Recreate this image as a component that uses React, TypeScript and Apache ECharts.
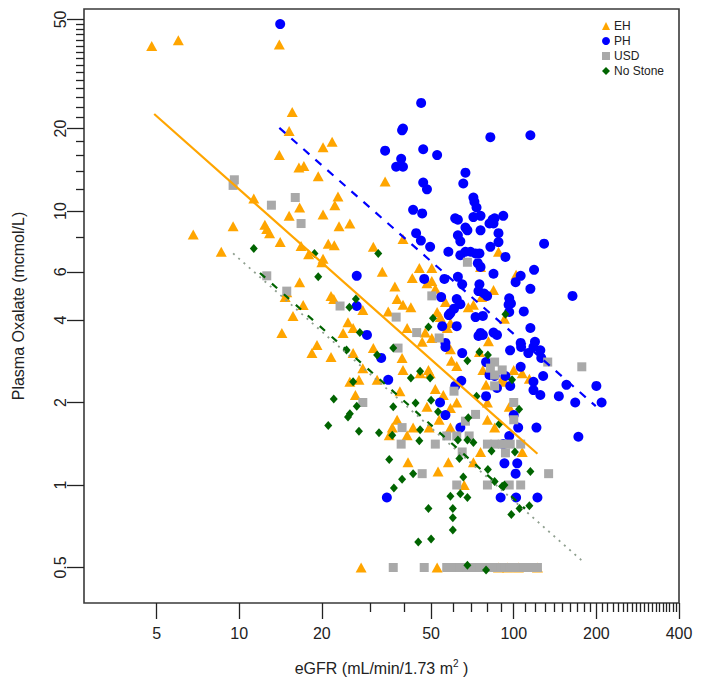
import React, { useEffect, useRef } from "react";
import * as echarts from "echarts";

// eGFR (mL/min/1.73 m2), Plasma Oxalate (mcmol/L)
const ehPoints: [number, number][] = [
  [4.8, 40], [6.0, 42], [14.0, 40.5], [15.6, 23], [15.2, 19.6], [14.0, 16], [20.2, 17.1], [21.8, 17.9],
  [16.5, 14.4], [17.2, 14.6], [19.4, 13.4], [11.3, 11.1], [22.9, 11.3], [16.6, 10.3], [22.3, 10.5],
  [15.2, 9.6], [20.2, 9.7], [9.5, 8.8], [12.4, 8.9], [12.6, 8.6], [12.9, 8.3], [23.1, 8.8], [6.8, 8.2],
  [14.1, 7.7], [16.8, 7.45], [21.1, 7.6], [22.2, 7.5], [8.6, 7.1], [17.9, 6.95], [20.2, 6.7], [20.0, 6.5],
  [16.6, 5.5], [21.6, 4.9], [22.1, 4.77], [14.7, 4.85], [14.9, 5.05], [17.1, 4.54], [15.7, 4.14],
  [14.3, 3.59], [23.9, 3.59], [24.9, 3.93], [25.3, 9.0], [34.0, 12.8], [30.8, 7.4], [39.5, 7.9],
  [88, 7.1], [45.3, 6.2], [50.3, 6.2], [33.2, 6.0], [42.7, 5.7], [48.3, 5.45], [50.3, 5.55], [75.7, 6.25],
  [102, 5.85], [84.4, 5.15], [36.9, 5.3], [51.8, 5.2], [37.6, 4.77], [56.4, 4.65], [39.5, 4.55], [42.2, 4.45],
  [68.3, 4.45], [71.3, 4.55], [76.4, 4.85], [34.9, 4.3], [28.2, 4.35], [52.6, 4.28], [54, 4.1], [92.5, 4.04],
  [57.3, 3.74], [58.8, 3.9], [40.9, 3.74], [47.6, 3.6], [50.3, 3.44], [46.4, 3.33], [80.9, 3.35], [26, 3.74],
  [19.2, 3.24], [18.4, 3.03], [21.6, 2.93], [30.8, 3.16], [39.2, 2.91], [58.8, 3.13], [75, 3.06], [26, 3.03],
  [59.3, 2.84], [28.2, 2.67], [39.5, 2.63], [48.9, 2.63], [49.6, 2.56], [62, 2.72], [77.2, 2.63], [100, 2.63],
  [107.4, 2.56], [31.8, 2.42], [27.3, 2.42], [25.3, 2.38], [45.6, 2.56], [114, 2.44], [90.8, 2.44],
  [92.5, 2.38], [79.3, 2.32], [26.5, 2.13], [38.5, 2.2], [51.8, 2.24], [55.4, 2.13], [62, 2.0], [80.2, 2.0],
  [48.3, 1.93], [58.8, 1.91], [96.3, 1.93], [37.6, 1.73], [43, 1.62], [36.1, 1.62], [35.2, 1.52], [40.9, 1.52],
  [49.2, 1.62], [58.8, 1.62], [80.2, 1.73], [53.5, 1.73], [85.2, 1.62], [75.7, 1.32], [41.2, 1.21],
  [57.8, 1.21], [53, 1.12], [71.3, 1.21], [107.4, 1.32], [66, 1.0],
  [27.8, 0.5], [52.6, 0.5], [88, 0.5], [95, 0.5], [104, 0.5], [122, 0.5],
];

const phPoints: [number, number][] = [
  [14.1, 48.1], [46, 24.8], [39.5, 20], [39.2, 19.7], [82.2, 18.6], [115, 18.9], [34, 16.6], [46.8, 16.8],
  [38.9, 15.5], [37.3, 14.5], [39.5, 14.5], [52.6, 16], [66.7, 13.8], [65.5, 12.6], [46.8, 12.7], [48.3, 12],
  [71.3, 11.2], [71.9, 10.8], [73.2, 10.3], [43, 10.1], [46.4, 9.8], [61.2, 9.4], [62.6, 9.3], [71.3, 9.5],
  [75.7, 9.6], [81.6, 9.0], [83.7, 9.3], [85.2, 9.4], [84.4, 9.0], [91.6, 9.6], [66.7, 8.7], [67.8, 8.5],
  [75.7, 8.5], [88, 8.3], [44.1, 8.3], [45.9, 7.8], [49.6, 7.4], [62.6, 8.15], [63.9, 7.75], [88, 7.7],
  [82.2, 7.4], [129, 7.6], [57.8, 7.1], [63.9, 6.9], [66.7, 7.1], [69.6, 7.1], [72.6, 7.0], [75, 7.0],
  [93.3, 6.8], [74, 6.45], [75.7, 6.25], [26.8, 5.8], [47.2, 5.65], [55.9, 5.65], [62.6, 5.75], [64.9, 5.4],
  [75, 5.4], [84.4, 5.9], [106, 5.8], [118.6, 6.1], [101.6, 5.5], [115, 5.2], [163.7, 4.9], [74.4, 5.1],
  [78, 5.0], [80, 4.9], [96.3, 4.8], [97.7, 4.6], [95.8, 4.55], [108.8, 4.3], [62, 4.77], [63.9, 4.57],
  [60.6, 4.4], [58.8, 4.24], [54.4, 4.85], [26.8, 4.5], [96.3, 4.28], [72.6, 4.1], [77.2, 4.14], [54.9, 3.8],
  [62, 3.8], [115, 3.74], [75.7, 3.59], [77.2, 3.53], [74.4, 3.5], [84.4, 3.6], [86.9, 3.53], [29.2, 3.53],
  [56.4, 3.3], [106, 3.3], [119.5, 3.33], [58, 4.17], [56.4, 3.19], [64.9, 3.03], [97, 3.1], [106.4, 3.19],
  [113, 3.03], [118, 3.19], [125, 3.1], [32.9, 2.91], [79.3, 2.81], [81.6, 2.52], [85.2, 2.5], [106, 2.7],
  [126, 2.91], [128, 2.5], [34.9, 2.42], [64.4, 2.4], [61.2, 2.3], [97.1, 2.3], [93.3, 2.5], [86.9, 2.26],
  [118, 2.38], [118, 2.22], [125, 2.13], [146, 2.11], [155.6, 2.32], [167.5, 2.0], [200, 2.3], [209, 2.0],
  [79.3, 2.11], [53.9, 2.0], [56.4, 1.8], [100, 1.8], [63.9, 1.62], [103.8, 1.62], [121, 1.62], [96.3, 1.51],
  [172, 1.5], [91.6, 1.41], [92.5, 1.2], [103, 1.2], [101.6, 1.1], [34.5, 0.9], [89.6, 0.9], [102, 0.9],
  [122, 0.9],
];

const usdPoints: [number, number][] = [
  [9.6, 13], [9.5, 12.4], [13.1, 10.5], [16, 11.2], [16.8, 9.0], [12.6, 5.8], [14.9, 5.1], [23.3, 4.5],
  [67.8, 6.5], [50.3, 4.9], [37.3, 4.1], [44.3, 3.6], [53.5, 3.44], [37.9, 3.16], [28.2, 2.0], [60.6, 2.2],
  [85.2, 2.81], [82.2, 2.67], [90.8, 2.63], [85.2, 2.52], [133, 2.81], [177, 2.7], [85.2, 2.3], [100, 2.0],
  [100, 1.73], [72.6, 1.81], [66.7, 1.71], [39.2, 1.62], [57, 1.51], [62, 1.51], [68.8, 1.51], [38.9, 1.41],
  [51.8, 1.41], [80.2, 1.41], [85.2, 1.41], [90.8, 1.41], [97.1, 1.41], [106, 1.41], [93.3, 1.31],
  [64.9, 1.32], [46.4, 1.1], [134, 1.1], [62, 1.0], [80.2, 1.0], [96.3, 1.0], [106, 1.0],
  [36.4, 0.5], [47.2, 0.5], [57, 0.5], [60.5, 0.5], [63.9, 0.5], [67.5, 0.5], [71.3, 0.5], [75.5, 0.5],
  [80.2, 0.5], [84.5, 0.5], [89.6, 0.5], [93, 0.5], [97, 0.5], [103, 0.5], [108.8, 0.5], [115, 0.5], [122, 0.5],
];

const noStonePoints: [number, number][] = [
  [11.3, 7.3], [18.8, 7.0], [19.4, 5.75], [25.2, 4.45], [32.1, 7.0], [26.6, 4.77], [93.3, 4.2], [50.8, 4.06],
  [48.9, 3.77], [27.5, 3.6], [36.4, 3.16], [31.8, 2.98], [26, 2.38], [45.6, 2.6], [42.2, 2.46], [49.6, 2.46],
  [67.8, 2.84], [75, 3.06], [80.5, 2.98], [98.6, 2.42], [36.4, 1.93], [26.8, 1.94], [25.3, 1.82], [43.9, 1.99],
  [50, 2.04], [53, 1.85], [68.3, 1.76], [73.2, 2.11], [104.6, 1.89], [27.3, 1.57], [32.3, 1.55], [36.1, 1.52],
  [45.6, 1.59], [45.3, 1.45], [62.6, 1.46], [67.8, 1.46], [71.3, 1.43], [88.6, 1.67], [83, 1.33], [101, 1.32],
  [63.4, 1.25], [35.2, 1.24], [43, 1.1], [39.2, 1.05], [36.6, 0.975], [65.5, 1.07], [115, 1.12], [80.5, 1.14],
  [85.2, 1.03], [90.8, 0.99], [92.5, 1.0], [58.8, 0.91], [63.9, 0.93], [67.8, 0.9], [105, 0.82], [114, 0.84],
  [98, 0.78], [48.9, 0.82], [60, 0.82], [60, 0.76], [60, 0.685], [44.9, 0.62], [50, 0.635], [67.8, 0.51],
  [79.3, 0.49], [22.1, 2.06], [21.1, 1.65], [24.9, 1.77], [24.6, 3.11],
];

// fitted lines (end points)
const ehFit: [number, number][] = [[4.9, 22.6], [122, 1.3]];
const phFit: [number, number][] = [[14, 20.1], [199, 1.94]];
const usdFit: [number, number][] = [[9.5, 7.0], [177, 0.53]];
const noStoneFit: [number, number][] = [[11.9, 5.94], [110, 0.82]];

const xLabelTicks = [5, 10, 20, 50, 100, 200, 400];
const xMinorTicks = [30, 40, 60, 70, 80, 90, 110, 120, 130, 140, 150, 160, 170, 180, 190,
  210, 220, 230, 240, 250, 260, 270, 280, 290, 300, 310, 320, 330, 340, 350, 360, 370, 380, 390];
const yLabelTicks = [0.5, 1, 2, 4, 6, 10, 20, 50];
const yMinorTicks = [8, 12, 14, 16, 18, 22, 24, 26, 28, 30, 32, 34, 36, 38, 40, 42, 44, 46, 48];

const seriesNames = ["EH", "PH", "USD", "No Stone"];
const FONT = "'Liberation Sans', Arial, sans-serif";
const TXT = "#222";

export default function App() {
  const ref = useRef<HTMLDivElement>(null);
  useEffect(() => {
    if (!ref.current) return;
    const chart = echarts.init(ref.current, undefined, { renderer: "svg" });
    const xBase = { type: "log", min: 2.72, max: 400, gridIndex: 0, position: "bottom", splitLine: { show: false } };
    const yBase = { type: "log", min: 0.371, max: 54.6, gridIndex: 0, position: "left", splitLine: { show: false } };
    chart.setOption({
      animation: false,
      backgroundColor: "#fff",
      textStyle: { fontFamily: FONT },
      grid: { left: 84, right: 22, top: 9, bottom: 86, show: true, borderColor: "#3a3a3a", borderWidth: 1.6 },
      legend: {
        data: seriesNames, orient: "vertical", left: 597, top: 15, itemWidth: 8, itemHeight: 8, itemGap: 3,
        textStyle: { fontSize: 12, color: TXT, fontFamily: FONT, padding: [0, 0, 0, -1] },
      },
      xAxis: [
        {
          ...xBase,
          axisLine: { show: false },
          axisTick: { show: true, length: 16, customValues: xLabelTicks, lineStyle: { color: "#222", width: 1.3 } },
          axisLabel: { show: true, customValues: xLabelTicks, margin: 22, fontSize: 16, color: TXT, fontFamily: FONT,
            formatter: (v: number) => String(v) },
          name: "{a|eGFR (mL/min/1.73 m}{s|2}{a| )}",
          nameLocation: "middle",
          nameGap: 55,
          nameTextStyle: {
            rich: {
              a: { fontSize: 16, color: TXT, fontFamily: FONT, lineHeight: 20 },
              s: { fontSize: 10, color: TXT, fontFamily: FONT, verticalAlign: "top", lineHeight: 20 },
            },
          },
        },
        {
          ...xBase,
          axisLine: { show: false },
          axisTick: { show: true, length: 9, customValues: xMinorTicks, lineStyle: { color: "#222", width: 1.3 } },
          axisLabel: { show: false },
        },
      ],
      yAxis: [
        {
          ...yBase,
          axisLine: { show: false },
          axisTick: { show: true, length: 17, customValues: yLabelTicks, lineStyle: { color: "#222", width: 1.3 } },
          axisLabel: { show: true, customValues: yLabelTicks, margin: 16, rotate: 90, fontSize: 16, color: TXT,
            fontFamily: FONT, formatter: (v: number) => String(v) },
          name: "Plasma Oxalate (mcmol/L)",
          nameLocation: "middle",
          nameGap: 58,
          nameRotate: 90,
          nameTextStyle: { fontSize: 16, color: TXT, fontFamily: FONT },
        },
        {
          ...yBase,
          axisLine: { show: false },
          axisTick: { show: true, length: 8, customValues: yMinorTicks, lineStyle: { color: "#222", width: 1.3 } },
          axisLabel: { show: false },
        },
      ],
      series: [
        { name: "EH", type: "scatter", data: ehPoints, symbol: "triangle", symbolSize: [11, 10],
          itemStyle: { color: "#FFA500", opacity: 1 } },
        { name: "PH", type: "scatter", data: phPoints, symbol: "circle", symbolSize: 10,
          itemStyle: { color: "#0000FF", opacity: 1 } },
        { name: "USD", type: "scatter", data: usdPoints, symbol: "rect", symbolSize: 9,
          itemStyle: { color: "#A9A9A9", opacity: 1 } },
        { name: "No Stone", type: "scatter", data: noStonePoints, symbol: "diamond", symbolSize: [8, 9],
          itemStyle: { color: "#006400", opacity: 1 } },
        { name: "EH fit", type: "line", data: ehFit, symbol: "none", silent: true,
          lineStyle: { color: "#FFA500", width: 2.2, type: "solid" } },
        { name: "PH fit", type: "line", data: phFit, symbol: "none", silent: true,
          lineStyle: { color: "#0000FF", width: 2.2, type: [8, 8] } },
        { name: "USD fit", type: "line", data: usdFit, symbol: "none", silent: true,
          lineStyle: { color: "#8f9f8f", width: 1.8, type: [2, 5] } },
        { name: "No Stone fit", type: "line", data: noStoneFit, symbol: "none", silent: true,
          lineStyle: { color: "#006400", width: 2.2, type: [7, 9] } },
      ],
    } as any);
    return () => chart.dispose();
  }, []);
  return <div ref={ref} style={{ width: 701, height: 689, position: "absolute", left: 0, top: 0 }} />;
}
